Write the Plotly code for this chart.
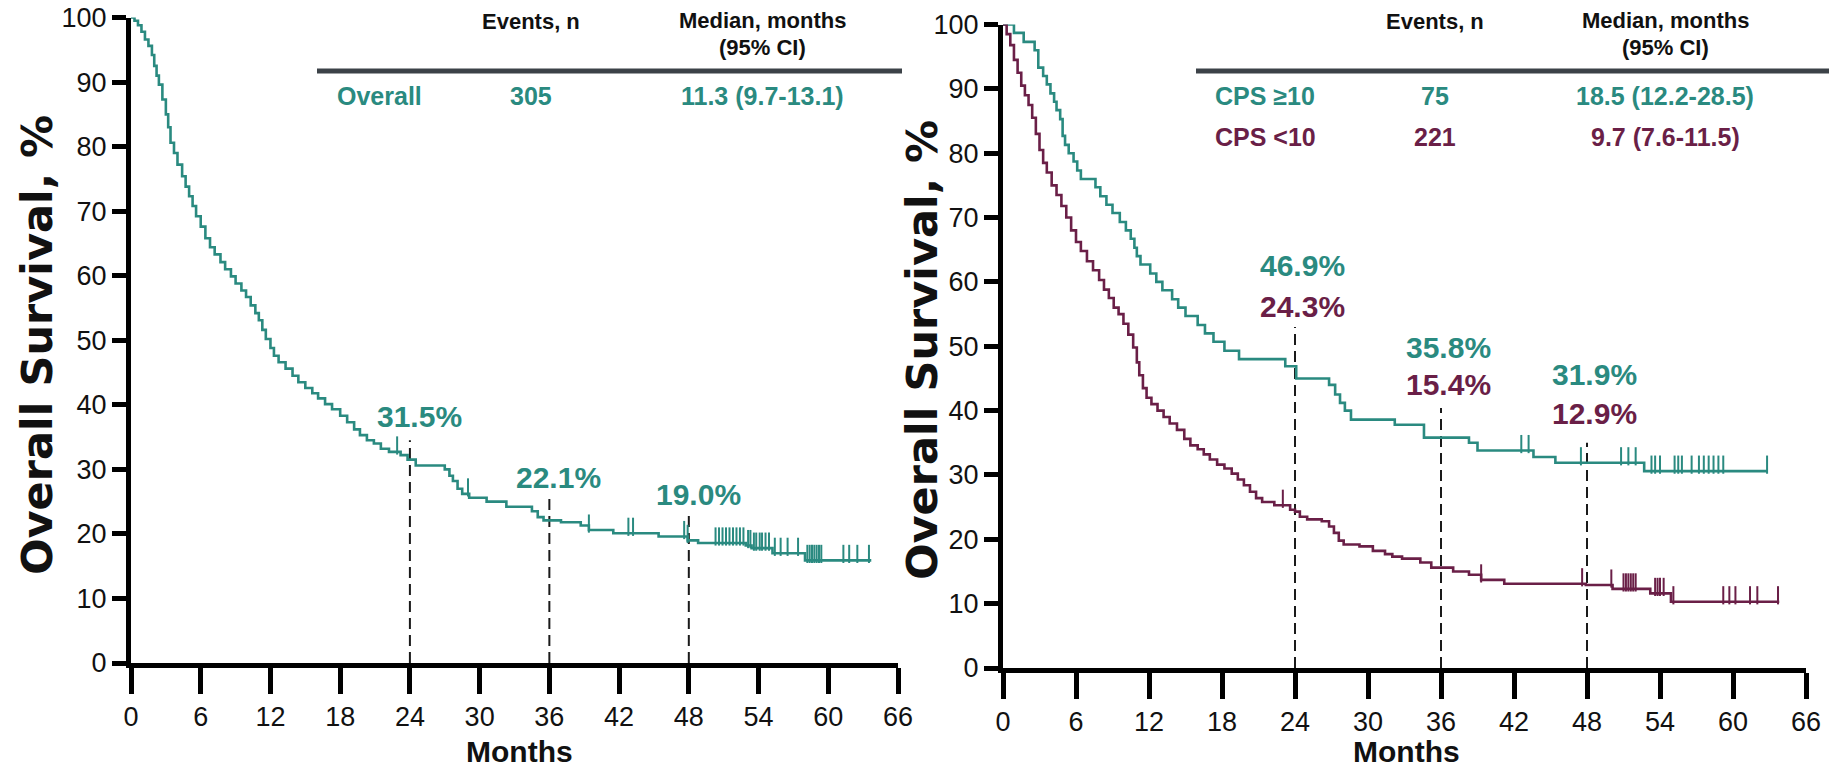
import plotly.graph_objects as go
import numpy as np

# ---------------- data ----------------
months_ticks = [0, 6, 12, 18, 24, 30, 36, 42, 48, 54, 60, 66]
surv_ticks = [0, 10, 20, 30, 40, 50, 60, 70, 80, 90, 100]

os_months = [0, 0.3, 0.6, 0.9, 1.2, 1.5, 1.8, 2.0, 2.2, 2.4, 2.7, 3.0, 3.2, 3.4, 3.7, 4.0, 4.4, 4.7,
             5.0, 5.3, 5.6, 6.0, 6.4, 6.8, 7.2, 7.7, 8.1, 8.6, 9.0, 9.5, 9.9, 10.3, 10.7, 11.0, 11.3,
             11.6, 12.0, 12.3, 12.7, 13.3, 13.9, 14.4, 15.0, 15.6, 16.1, 16.7, 17.3, 18.0, 18.6,
             19.2, 19.7, 20.3, 20.9, 21.5, 22.2, 23.2, 23.8, 24.5, 27.0, 27.4, 27.7, 28.1, 28.5,
             29.1, 30.6, 32.3, 34.5, 35.0, 35.5, 37.0, 38.7, 39.4, 41.5, 45.4, 47.9, 48.8, 52.9,
             53.4, 55.2, 58.0, 63.7]
os_surv = [100, 99.5, 98.8, 97.8, 96.6, 95.6, 94.2, 92.5, 91.0, 89.6, 87.3, 85.0, 83.0, 80.6, 79.0,
           77.2, 75.4, 73.8, 72.3, 70.8, 69.2, 67.6, 65.8, 64.4, 63.3, 62.1, 61.0, 59.9, 58.8, 57.7,
           56.7, 55.4, 54.2, 53.1, 51.6, 50.2, 48.8, 47.6, 46.6, 45.6, 44.5, 43.5, 42.6, 41.8, 41.0,
           40.1, 39.3, 38.3, 37.3, 36.2, 35.3, 34.5, 34.0, 33.2, 32.7, 32.2, 31.5, 30.6, 30.0, 29.0,
           28.2, 27.0, 26.2, 25.6, 25.0, 24.2, 23.5, 22.6, 22.1, 21.8, 21.3, 20.6, 20.1, 19.6, 19.0,
           18.6, 18.2, 17.8, 17.0, 15.9, 15.9]
os_censor = [22.9, 29.0, 39.4, 42.8, 43.2, 47.6, 47.9, 50.3, 50.6, 50.9, 51.2, 51.5, 51.8, 52.1,
             52.4, 52.7, 53.1, 53.3, 53.6, 53.8, 54.1, 54.3, 54.6, 54.9, 55.4, 55.9, 56.5, 57.4,
             58.2, 58.4, 58.6, 58.8, 59.0, 59.2, 59.4, 61.3, 61.8, 62.5, 63.5]

hi_months = [0, 0.9, 1.7, 2.6, 2.9, 3.3, 3.6, 3.9, 4.2, 4.4, 4.7, 4.9, 5.1, 5.4, 5.8, 6.1, 6.4, 7.6,
             8.0, 8.5, 9.0, 9.6, 10.1, 10.5, 10.8, 11.0, 11.3, 12.1, 12.6, 13.1, 13.9, 14.4, 15.0,
             16.0, 16.6, 17.3, 18.2, 19.4, 23.2, 24.1, 26.8, 27.3, 27.7, 28.1, 28.6, 32.2, 34.6,
             38.3, 39.0, 43.6, 45.4, 52.7, 62.8]
hi_surv = [100, 98.7, 97.3, 96.0, 93.3, 92.0, 90.7, 89.3, 88.0, 86.7, 85.3, 82.7, 81.3, 80.0, 78.7,
           77.3, 76.0, 74.7, 73.3, 72.0, 70.7, 69.3, 68.0, 66.7, 65.3, 64.0, 62.7, 61.3, 60.0, 58.7,
           57.3, 56.0, 54.7, 53.3, 52.0, 50.7, 49.3, 48.0, 46.9, 45.0, 44.0, 42.5, 41.2, 40.0, 38.6,
           37.8, 35.8, 35.0, 33.8, 32.8, 31.9, 30.6, 30.6]
hi_censor = [42.6, 43.2, 47.5, 50.8, 51.4, 52.0, 53.3, 53.6, 54.0, 55.2, 55.5, 55.8, 56.6, 57.2,
             57.6, 58.0, 58.4, 58.8, 59.2, 62.8]

lo_months = [0, 0.3, 0.6, 0.9, 1.2, 1.5, 1.8, 2.1, 2.4, 2.7, 3.0, 3.3, 3.6, 4.0, 4.4, 4.8, 5.2, 5.6,
             6.0, 6.4, 6.9, 7.4, 7.9, 8.3, 8.7, 9.1, 9.5, 9.9, 10.3, 10.7, 11.0, 11.2, 11.5, 11.8,
             12.2, 12.7, 13.2, 13.7, 14.3, 14.9, 15.4, 16.0, 16.5, 17.0, 17.6, 18.2, 18.8, 19.3,
             19.8, 20.3, 20.8, 21.3, 22.3, 23.6, 24.0, 24.4, 25.0, 26.2, 26.8, 27.2, 27.6, 28.0,
             29.3, 30.4, 31.4, 32.0, 32.8, 34.3, 35.2, 37.0, 38.3, 39.3, 41.2, 47.9, 50.1, 53.2,
             54.9, 63.8]
lo_surv = [100, 98.5, 96.8, 94.5, 92.5, 90.5, 89.0, 87.5, 85.5, 83.0, 80.5, 78.5, 77.0, 75.0, 73.5,
           71.8, 70.0, 68.0, 66.2, 64.8, 63.2, 61.8, 60.3, 58.8, 57.5, 56.0, 55.0, 53.5, 51.8, 49.8,
           47.5, 45.5, 43.5, 42.0, 41.0, 40.0, 39.0, 38.0, 37.0, 35.6, 34.6, 34.0, 33.2, 32.4, 31.6,
           31.0, 30.2, 29.3, 28.4, 27.4, 26.4, 25.8, 25.3, 24.6, 24.3, 23.5, 23.1, 22.8, 22.0, 21.0,
           19.8, 19.2, 18.9, 18.2, 17.7, 17.3, 17.0, 16.4, 15.6, 15.0, 14.5, 13.7, 13.1, 12.9, 12.3,
           11.6, 10.3, 10.3]
lo_censor = [23.0, 39.3, 47.6, 50.0, 51.0, 51.2, 51.4, 51.6, 51.8, 52.0, 53.6, 53.8, 54.0, 54.3,
             55.1, 59.2, 59.7, 60.2, 61.4, 62.0, 63.7]

landmark_months = [24, 36, 48]
os_landmark = ["31.5%", "22.1%", "19.0%"]
hi_landmark = ["46.9%", "35.8%", "31.9%"]
lo_landmark = ["24.3%", "15.4%", "12.9%"]

left_table_rows = [["Overall", "305", "11.3 (9.7-13.1)"]]
right_table_rows = [["CPS ≥10", "75", "18.5 (12.2-28.5)"], ["CPS <10", "221", "9.7 (7.6-11.5)"]]

# ---------------- styles ----------------
TEAL = "#2A8A80"
MAROON = "#6A1F47"
FONT = "Liberation Sans, Arial, sans-serif"
WIDE = "DejaVu Sans, Verdana, sans-serif"
W, H = 1829, 771


def px_x(p):
    return p / W


def px_y(p):
    return 1 - p / H


def step_at(ts, ss, t):
    idx = np.searchsorted(np.array(ts), t, side="right") - 1
    return ss[max(idx, 0)]


fig = go.Figure()


def add_km(xa, ya, ts, ss, cens, color):
    fig.add_trace(go.Scatter(x=ts, y=ss, mode="lines", line=dict(color=color, width=2.6, shape="hv"),
                             xaxis=xa, yaxis=ya, showlegend=False, hoverinfo="skip"))
    cy = [step_at(ts, ss, c) + 1.0 for c in cens]
    fig.add_trace(go.Scatter(x=cens, y=cy, mode="markers",
                             marker=dict(symbol="line-ns", size=13, line=dict(color=color, width=2)),
                             xaxis=xa, yaxis=ya, showlegend=False, hoverinfo="skip", cliponaxis=False))


def add_dash(xa, ya, tops):
    for m, top in zip(landmark_months, tops):
        fig.add_trace(go.Scatter(x=[m, m], y=[0, top], mode="lines",
                                 line=dict(color="#1a1a1a", width=2, dash="11px,6px"),
                                 xaxis=xa, yaxis=ya, showlegend=False, hoverinfo="skip"))


add_dash("x", "y", [34.5, 25.4, 23.7])
add_dash("x2", "y2", [53.0, 40.4, 35.0])
add_km("x", "y", os_months, os_surv, os_censor, TEAL)
add_km("x2", "y2", hi_months, hi_surv, hi_censor, TEAL)
add_km("x2", "y2", lo_months, lo_surv, lo_censor, MAROON)

annotations = []
LM_SIZE = 30


def lm(x, y, xr, yr, lab, col):
    annotations.append(dict(x=x, y=y, xref=xr, yref=yr, text=f"<b>{lab}</b>", showarrow=False,
                            xanchor="center", yanchor="middle",
                            font=dict(family=FONT, size=LM_SIZE, color=col)))


for m, lab, yy in zip(landmark_months, os_landmark, [38.2, 28.7, 26.1]):
    lm(m + 0.8, yy, "x", "y", lab, TEAL)
for m, lab, yy in zip(landmark_months, hi_landmark, [62.5, 49.8, 45.6]):
    lm(m + 0.6, yy, "x2", "y2", lab, TEAL)
for m, lab, yy in zip(landmark_months, lo_landmark, [56.2, 44.0, 39.5]):
    lm(m + 0.6, yy, "x2", "y2", lab, MAROON)


def ptext(x, y, text, font, xanchor="center", angle=0):
    annotations.append(dict(x=px_x(x), y=px_y(y), xref="paper", yref="paper", text=text, showarrow=False,
                            xanchor=xanchor, yanchor="middle", textangle=angle, font=font))


def table(line_x0, line_x1, label_x, ev_x, med_x, rows, colors):
    hdr = dict(family=FONT, size=22, color="#111111")
    ptext(ev_x, 21, "<b>Events, n</b>", hdr)
    ptext(med_x, 20, "<b>Median, months</b>", hdr)
    ptext(med_x, 47, "<b>(95% CI)</b>", hdr)
    fig.add_shape(type="line", xref="paper", yref="paper", x0=px_x(line_x0), x1=px_x(line_x1),
                  y0=px_y(71), y1=px_y(71), line=dict(color="#3C4248", width=5))
    for i, (row, col) in enumerate(zip(rows, colors)):
        yy = 96 + 41 * i
        f = dict(family=FONT, size=25, color=col)
        ptext(label_x, yy, f"<b>{row[0]}</b>", f, xanchor="left")
        ptext(ev_x, yy, f"<b>{row[1]}</b>", f)
        ptext(med_x, yy, f"<b>{row[2]}</b>", f)


table(317, 902, 335, 531, 762, left_table_rows, [TEAL])
table(1196, 1829, 1213, 1435, 1665, right_table_rows, [TEAL, MAROON])

# axis titles
for cx, cy in [(519, 751), (1406, 751)]:
    ptext(cx, cy, "<b>Months</b>", dict(family=FONT, size=30, color="#111111"))
for cx, cy in [(37, 345), (922, 350)]:
    ptext(cx, cy, "<b>Overall Survival, %</b>", dict(family=WIDE, size=43, color="#111111"), angle=-90)

xax = dict(range=[0, 66], tickvals=months_ticks, showline=True, linecolor="black", linewidth=5,
           ticks="outside", ticklen=26, tickwidth=5, tickcolor="black", showgrid=False, zeroline=False,
           tickfont=dict(family=FONT, size=27, color="#111111"), fixedrange=True, automargin=False,
           ticklabeloverflow="allow")
yax = dict(range=[0, 100], tickvals=surv_ticks, showline=True, linecolor="black", linewidth=5,
           ticks="outside", ticklen=14, tickwidth=5, tickcolor="black", showgrid=False, zeroline=False,
           tickfont=dict(family=FONT, size=27, color="#111111"), fixedrange=True, automargin=False,
           ticklabeloverflow="allow")

fig.update_layout(
    width=W, height=H,
    margin=dict(l=0, r=0, t=0, b=0, pad=0),
    paper_bgcolor="white", plot_bgcolor="white",
    xaxis=dict(xax, domain=[px_x(131), px_x(898)], anchor="y"),
    yaxis=dict(yax, domain=[px_y(663), px_y(17.5)], anchor="x"),
    xaxis2=dict(xax, domain=[px_x(1003), px_x(1806)], anchor="y2"),
    yaxis2=dict(yax, domain=[px_y(668), px_y(24.5)], anchor="x2"),
    annotations=annotations,
    showlegend=False,
)

fig.write_html("out.html", config={"displayModeBar": False, "staticPlot": True},
               post_script="document.body.style.margin='0';document.body.style.overflow='hidden';")
